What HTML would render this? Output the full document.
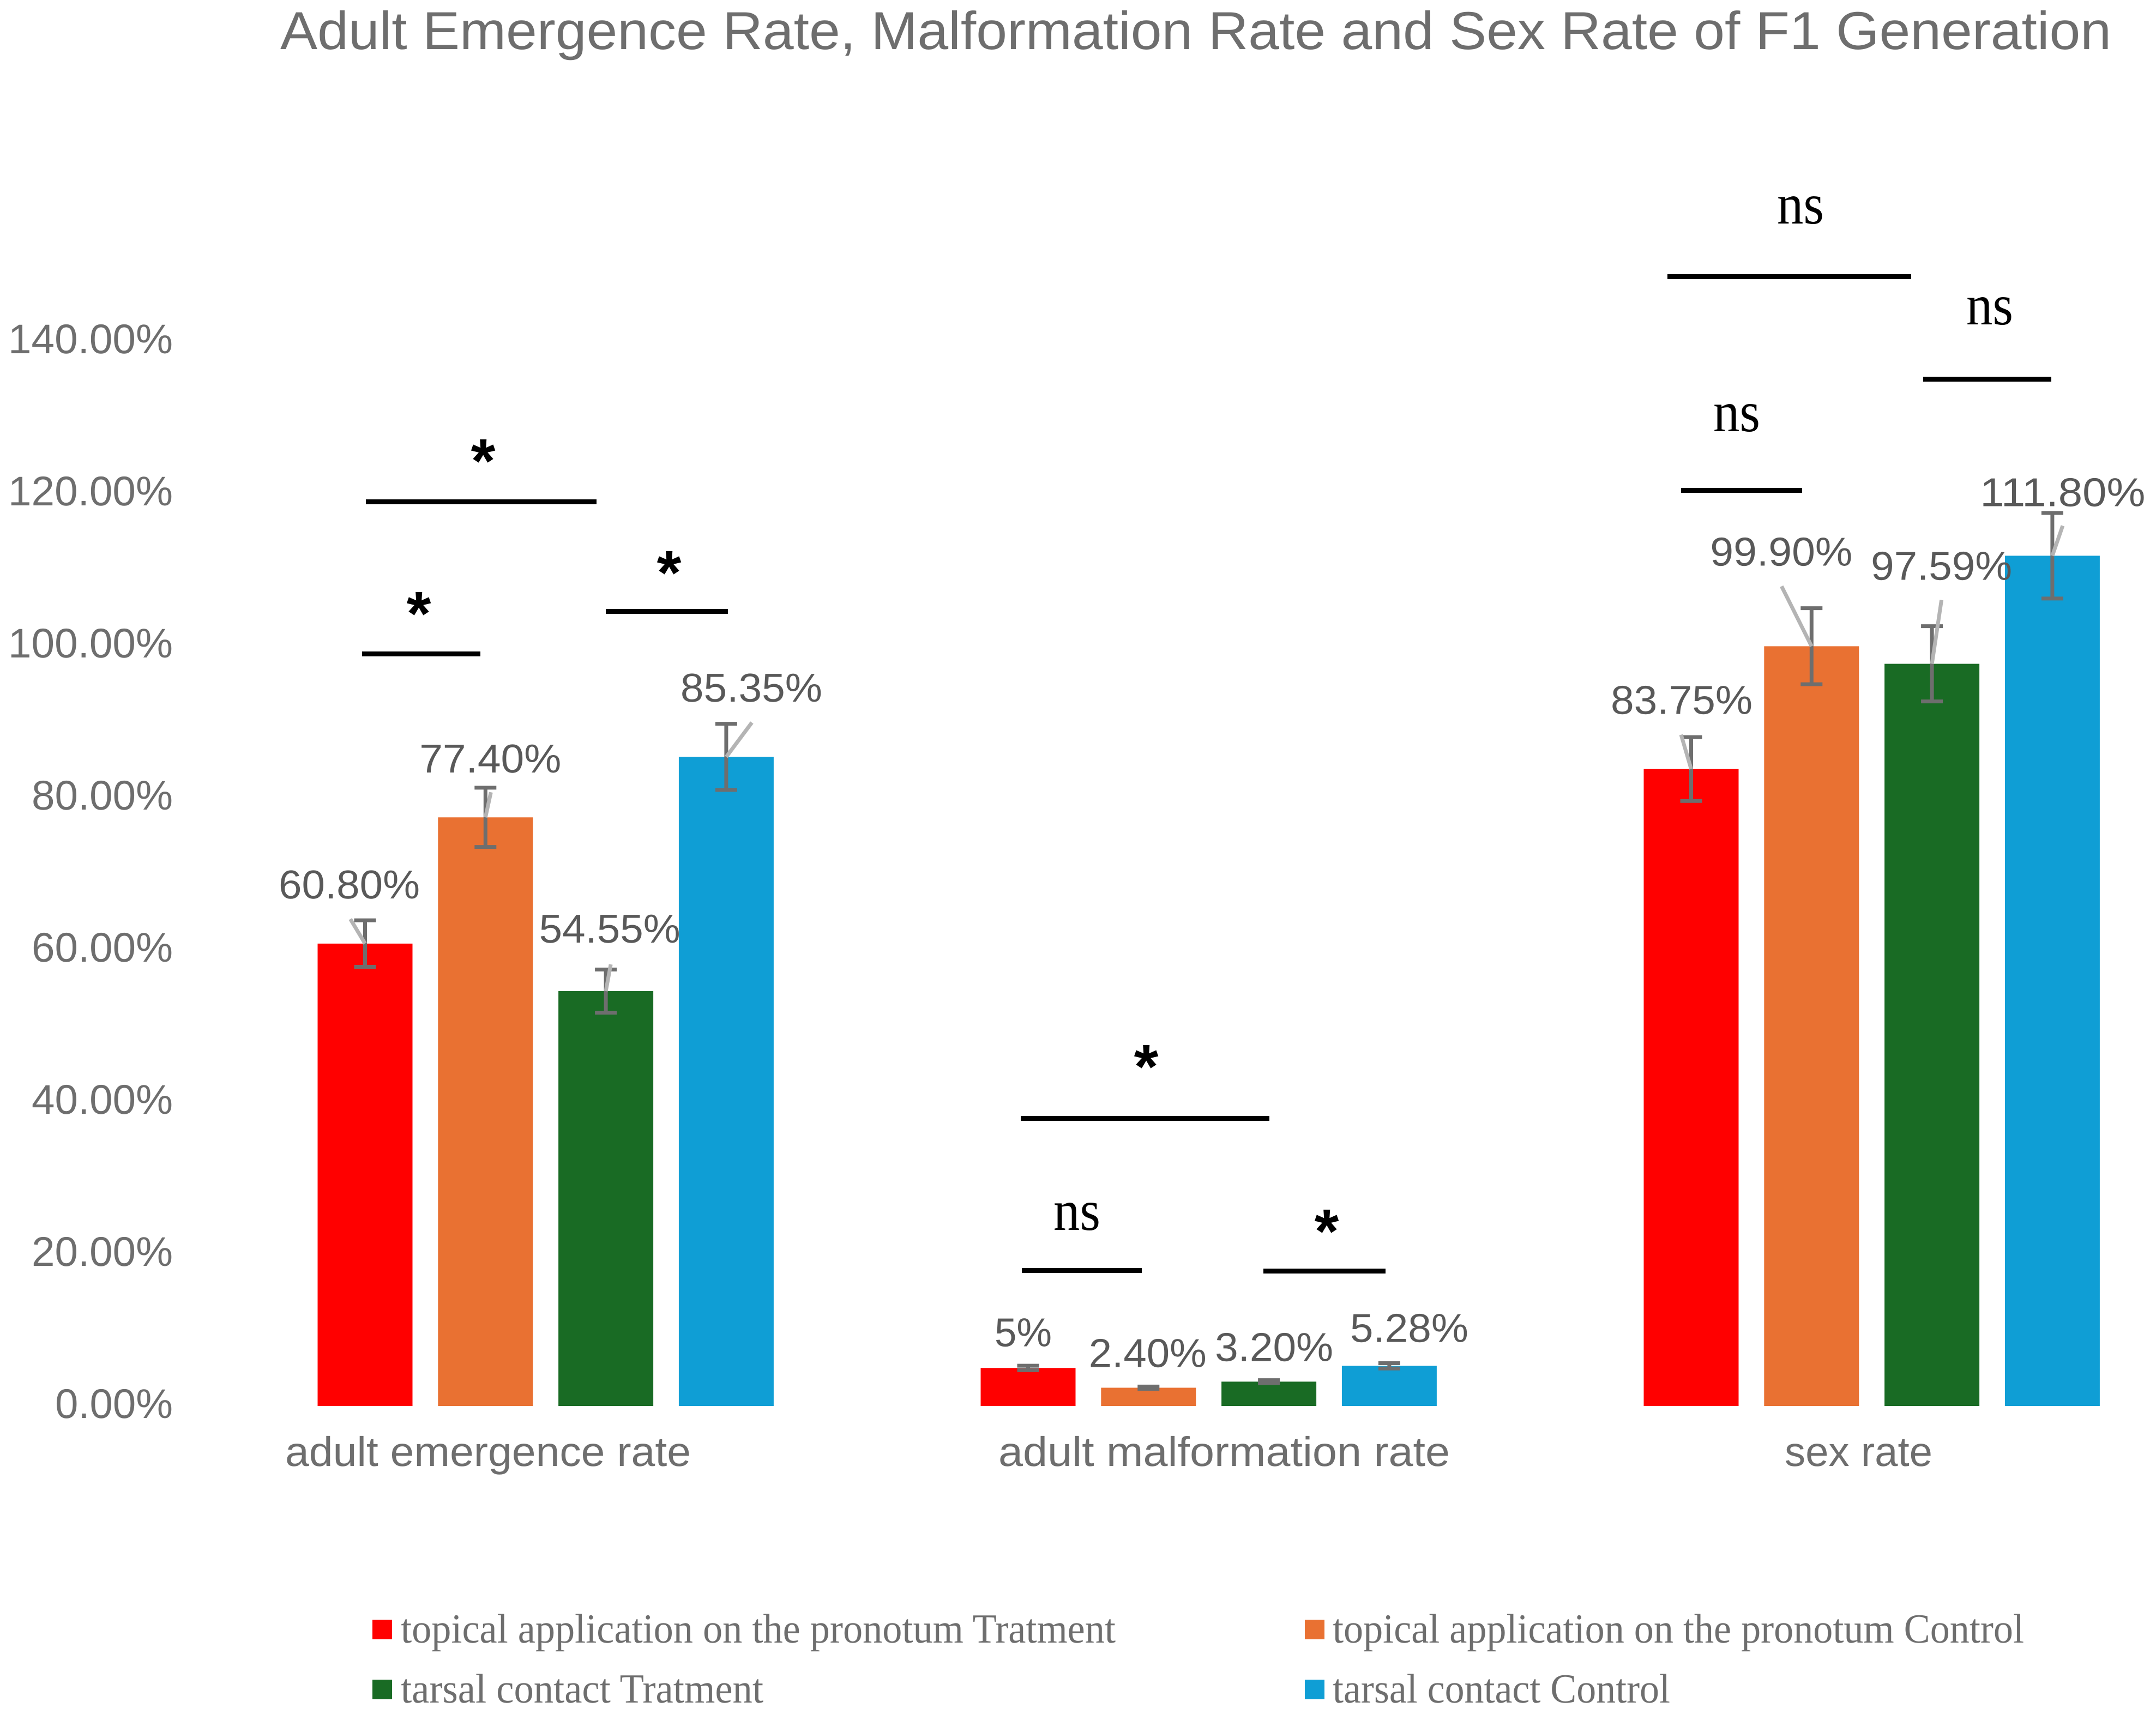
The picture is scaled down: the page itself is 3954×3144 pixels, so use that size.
<!DOCTYPE html>
<html lang="en">
<head>
<meta charset="utf-8">
<title>Adult Emergence Rate, Malformation Rate and Sex Rate of F1 Generation</title>
<style>
html,body{margin:0;padding:0;background:#fff;width:3954px;height:3144px;overflow:hidden}
svg{display:block;text-rendering:geometricPrecision}
.sans{font-family:"Liberation Sans",sans-serif}
.serif{font-family:"Liberation Serif",serif}
</style>
</head>
<body>
<svg id="chart" xmlns="http://www.w3.org/2000/svg" width="3954" height="3144" viewBox="0 0 3954 3144">
  <rect x="0" y="0" width="3954" height="3144" fill="#ffffff"/>
  <text class="sans" x="514" y="90" font-size="98" fill="#6e6e6e" textLength="3358" lengthAdjust="spacingAndGlyphs">Adult Emergence Rate, Malformation Rate and Sex Rate of F1 Generation</text>

  <g id="y-axis"></g>
  <g id="x-axis"></g>
  <g id="bars"></g>
  <g id="error-bars"></g>
  <g id="leaders"></g>
  <g id="value-labels"></g>

  <g fill="#000000" class="serif">
    <rect x="671" y="916" width="423" height="9"/>
    <rect x="664" y="1195" width="217" height="9"/>
    <rect x="1111" y="1117" width="224" height="9"/>
    <rect x="1872" y="2047" width="456" height="9"/>
    <rect x="1874" y="2326" width="220" height="9"/>
    <rect x="2317" y="2327" width="224" height="9"/>
    <rect x="3058" y="503" width="447" height="9"/>
    <rect x="3083" y="895" width="222" height="9"/>
    <rect x="3527" y="691" width="235" height="9"/>
    <text class="sans" x="886" y="885" font-size="115" text-anchor="middle" font-weight="bold">*</text>
    <text class="sans" x="768" y="1165" font-size="115" text-anchor="middle" font-weight="bold">*</text>
    <text class="sans" x="1227" y="1090" font-size="115" text-anchor="middle" font-weight="bold">*</text>
    <text class="sans" x="2102" y="1996" font-size="115" text-anchor="middle" font-weight="bold">*</text>
    <text class="sans" x="2433" y="2298" font-size="115" text-anchor="middle" font-weight="bold">*</text>
    <text x="1932" y="2256" font-size="106" textLength="86" lengthAdjust="spacingAndGlyphs">ns</text>
    <text x="3259" y="410" font-size="106" textLength="86" lengthAdjust="spacingAndGlyphs">ns</text>
    <text x="3606" y="595" font-size="106" textLength="86" lengthAdjust="spacingAndGlyphs">ns</text>
    <text x="3142" y="791" font-size="106" textLength="86" lengthAdjust="spacingAndGlyphs">ns</text>
  </g>

  <g class="serif" font-size="76" fill="#6e6e6e">
    <g>
      <rect x="683" y="2971" width="36" height="36" fill="#ff0000"/>
      <text x="735" y="3013" textLength="1311" lengthAdjust="spacingAndGlyphs">topical application on the pronotum Tratment</text>
    </g>
    <g>
      <rect x="2393" y="2971" width="36" height="36" fill="#e97132"/>
      <text x="2444" y="3013" textLength="1268" lengthAdjust="spacingAndGlyphs">topical application on the pronotum Control</text>
    </g>
    <g>
      <rect x="683" y="3081" width="36" height="36" fill="#196b24"/>
      <text x="735" y="3123" textLength="665" lengthAdjust="spacingAndGlyphs">tarsal contact Tratment</text>
    </g>
    <g>
      <rect x="2393" y="3081" width="36" height="36" fill="#0f9ed5"/>
      <text x="2444" y="3123" textLength="619" lengthAdjust="spacingAndGlyphs">tarsal contact Control</text>
    </g>
  </g>
</svg>
<script>
// ---- data ----
var categories = ['adult emergence rate', 'adult malformation rate', 'sex rate'];
var seriesNames = ['topical application on the pronotum Tratment', 'topical application on the pronotum Control', 'tarsal contact Tratment', 'tarsal contact Control'];
var pronotumTreatment = [60.80, 5.00, 83.75];
var pronotumControl = [77.40, 2.40, 99.90];
var tarsalTreatment = [54.55, 3.20, 97.59];
var tarsalControl = [85.35, 5.28, 111.80];
var pronotumTreatmentError = [3.06, 0.30, 4.20];
var pronotumControlError = [3.90, 0.15, 5.00];
var tarsalTreatmentError = [2.84, 0.20, 4.95];
var tarsalControlError = [4.35, 0.35, 5.63];
var pronotumTreatmentLabels = ['60.80%', '5%', '83.75%'];
var pronotumControlLabels = ['77.40%', '2.40%', '99.90%'];
var tarsalTreatmentLabels = ['54.55%', '3.20%', '97.59%'];
var tarsalControlLabels = ['85.35%', '5.28%', '111.80%'];
var tickValues = [0, 20, 40, 60, 80, 100, 120, 140];
var tickLabels = ['0.00%', '20.00%', '40.00%', '60.00%', '80.00%', '100.00%', '120.00%', '140.00%'];

var values = [pronotumTreatment, pronotumControl, tarsalTreatment, tarsalControl];
var errors = [pronotumTreatmentError, pronotumControlError, tarsalTreatmentError, tarsalControlError];
var printed = [pronotumTreatmentLabels, pronotumControlLabels, tarsalTreatmentLabels, tarsalControlLabels];

// ---- style and layout (separate from the data) ----
var colors = ['#ff0000', '#e97132', '#196b24', '#0f9ed5'];
var seriesKeys = ['pronotum-treatment', 'pronotum-control', 'tarsal-treatment', 'tarsal-control'];
var categoryKeys = ['emergence', 'malformation', 'sex'];
var labelPlacement = [
  [[-158.5, -83, 259], [-61.5, -40, 105], [-147.5, -101, 260]],
  [[-121, -82.5, 260], [-109.5, -38, 216], [-186, -148, 261]],
  [[-122.5, -89, 259], [-99, -38, 217], [-112, -154, 259]],
  [[-84, -101.5, 260], [-72, -44, 217], [-132.5, -91, 303]]
];
var leaderPlacement = [
  [[-27, -45], null, [-18.5, -63]],
  [[10, -46], null, [-55, -110]],
  [[9, -49], null, [17.5, -117]],
  [[47, -63], null, [19, -55]]
];
var categoryLabelPlacement = [[523, 744], [1831, 828], [3273, 271]];

// ---- axis functions ----
var BAR_W = 174;
function xBar(g, s) { return 582.5 + 1216 * g + 220.8 * s; }
function yVal(v) { return 2579 - 13.95 * v; }

var NS = 'http://www.w3.org/2000/svg';
function mk(tag, parent, props) {
  var el = document.createElementNS(NS, tag);
  for (var k in props) el.setAttribute(k, props[k]);
  parent.appendChild(el);
  return el;
}

var yAxis = document.getElementById('y-axis');
var xAxis = document.getElementById('x-axis');
var barsG = document.getElementById('bars');
var errG = document.getElementById('error-bars');
var leadG = document.getElementById('leaders');
var labG = document.getElementById('value-labels');

tickValues.forEach(function (t, i) {
  var w = tickLabels[i].length === 7 ? 302 : (tickLabels[i].length === 6 ? 259 : 216);
  var el = mk('text', yAxis, {
    'class': 'sans', x: 317, y: yVal(t) + 22, 'text-anchor': 'end', 'font-size': 76, fill: '#6e6e6e',
    textLength: w, lengthAdjust: 'spacingAndGlyphs'
  });
  
  
  el.textContent = tickLabels[i];
});

categories.forEach(function (c, g) {
  var p = categoryLabelPlacement[g];
  var el = mk('text', xAxis, {
    'class': 'sans', x: p[0], y: 2689, 'font-size': 76, fill: '#6e6e6e',
    textLength: p[1], lengthAdjust: 'spacingAndGlyphs'
  });
  
  
  el.textContent = c;
});

values.forEach(function (series, s) {
  series.forEach(function (v, g) {
    var x = xBar(g, s), top = yVal(v), cx = x + BAR_W / 2;
    var bar = mk('rect', barsG, { x: x, y: top, width: BAR_W, height: yVal(0) - top, fill: colors[s] });
    
    

    var hi = yVal(v + errors[s][g]), lo = yVal(v - errors[s][g]);
    var eb = mk('path', errG, {
      d: 'M' + (cx - 20) + ' ' + hi + 'H' + (cx + 20) + 'M' + cx + ' ' + hi + 'V' + lo + 'M' + (cx - 20) + ' ' + lo + 'H' + (cx + 20),
      stroke: '#6e6e6e', 'stroke-width': 7, fill: 'none'
    });
    
    

    var lp = leaderPlacement[s][g];
    if (lp) {
      var ld = mk('line', leadG, {
        x1: cx, y1: top, x2: cx + lp[0], y2: top + lp[1], stroke: '#b4b4b4', 'stroke-width': 7
      });
      
      
    }

    var pl = labelPlacement[s][g];
    var lab = mk('text', labG, {
      'class': 'sans', x: cx + pl[0], y: top + pl[1], 'font-size': 74, fill: '#595959',
      textLength: pl[2], lengthAdjust: 'spacingAndGlyphs'
    });
    
    
    lab.textContent = printed[s][g];
  });
});
</script>
</body>
</html>
